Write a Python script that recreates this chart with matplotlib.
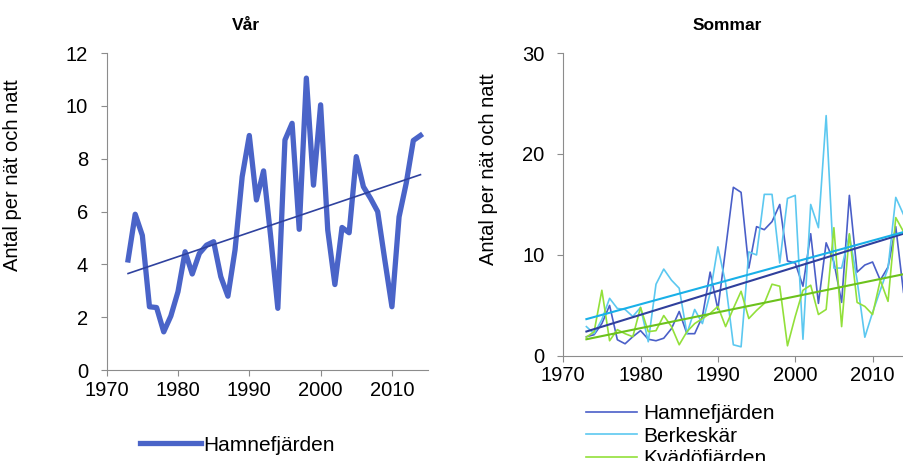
import numpy as np
import matplotlib.pyplot as plt

plt.rcParams['font.family'] = ['Liberation Sans', 'DejaVu Sans']

# Vår (spring), Hamnefjärden
var_years = list(range(1973, 2015))
var_hamne = [4.17, 5.9, 5.1, 2.4, 2.37, 1.45, 2.05, 2.97, 4.48, 3.64,
             4.42, 4.73, 4.86, 3.54, 2.8, 4.55, 7.32, 8.88, 6.44, 7.54,
             5.05, 2.34, 8.71, 9.34, 5.33, 11.05, 7.0, 10.04, 5.3, 3.24,
             5.4, 5.2, 8.08, 6.94, 6.5, 6.0, 4.17, 2.4, 5.8, 7.07,
             8.69, 8.88]

# Sommar (summer)
som_years = list(range(1973, 2015))
som_hamne = [1.9, 2.1, 3.2, 5.0, 1.6, 1.2, 1.9, 2.5, 1.65, 1.5,
             1.75, 2.7, 4.4, 2.2, 2.2, 3.9, 8.3, 4.6, 10.6, 16.7,
             16.2, 8.7, 12.8, 12.5, 13.3, 15.0, 9.4, 9.2, 6.9, 12.1,
             5.2, 11.2, 9.3, 5.3, 15.9, 8.3, 9.0, 9.3, 7.5, 8.8,
             12.8, 6.3]
som_berke = [2.9, 2.2, 3.6, 5.7, 4.7, 4.6, 3.9, 4.8, 1.4, 7.1,
             8.6, 7.5, 6.7, 2.2, 4.6, 3.2, 6.2, 10.8, 7.2, 1.1,
             0.9, 10.3, 10.0, 16.0, 16.0, 9.2, 15.6, 15.9, 1.65, 15.0,
             12.7, 23.8, 8.7, 8.7, 12.0, 7.5, 1.85, 4.3, 6.5, 8.7,
             15.7, 14.0]
som_kvado = [1.85, 2.4, 6.5, 1.5, 2.6, 2.2, 1.9, 4.8, 2.4, 2.5,
             4.0, 2.9, 1.1, 2.4, 3.2, 3.7, 4.2, 4.9, 2.9, 4.7,
             6.4, 3.7, 4.5, 5.2, 7.1, 6.9, 1.0, 3.9, 6.5, 7.0,
             4.1, 4.6, 12.7, 2.9, 12.1, 5.3, 4.9, 4.1, 7.5, 5.4,
             13.7, 12.3]

FS = 14.5


def trend(x, y):
    k, m = np.polyfit(x, y, 1)
    x = np.array(x)
    return x, k * x + m


def style_axes(ax):
    for s in ['top', 'right']:
        ax.spines[s].set_visible(False)
    for s in ['left', 'bottom']:
        ax.spines[s].set_color('#8c8c8c')
    ax.tick_params(direction='out', length=4.5, color='#8c8c8c', labelsize=FS)
    ax.tick_params(axis='y', pad=9)
    ax.tick_params(axis='x', pad=3)


fig = plt.figure(figsize=(9.04, 4.61), dpi=100)

# left: Vår
ax1 = fig.add_axes([0.118, 0.197, 0.355, 0.688])
l1, = ax1.plot(var_years, var_hamne, color='#4a64c8', lw=3.8,
               solid_joinstyle='round', label='Hamnefjärden')
tx, ty = trend(var_years, var_hamne)
ax1.plot(tx, ty, color='#2f429f', lw=1.2)
ax1.set_xlim(1970, 2015)
ax1.set_ylim(0, 12)
ax1.set_xticks([1970, 1980, 1990, 2000, 2010])
ax1.set_yticks(range(0, 13, 2))
ax1.set_ylabel('Antal per nät och natt', fontsize=FS)
ax1.yaxis.set_label_coords(-0.265, 0.614)
style_axes(ax1)
fig.legend(handles=[l1], loc='upper left', bbox_to_anchor=(0.155, 0.055),
           frameon=False, fontsize=15, handlelength=2.9, handletextpad=0.15,
           borderpad=0, borderaxespad=0)
fig.text(246 / 904, 1 - 25 / 461, 'Vår', ha='center', va='center',
         fontsize=12.5, fontweight='bold')

# right: Sommar
ax2 = fig.add_axes([0.623, 0.228, 0.385, 0.657])
h1, = ax2.plot(som_years, som_hamne, color='#4a5fc8', lw=1.2, label='Hamnefjärden')
h2, = ax2.plot(som_years, som_berke, color='#5cc8f0', lw=1.2, label='Berkeskär')
h3, = ax2.plot(som_years, som_kvado, color='#92e03a', lw=1.2, label='Kvädöfjärden')
for ys, c in [(som_hamne, '#2f3f9c'), (som_berke, '#19b0e8'), (som_kvado, '#6cc21c')]:
    tx, ty = trend(som_years, ys)
    ax2.plot(tx, ty, color=c, lw=1.5)
ax2.set_xlim(1970, 2015)
ax2.set_ylim(0, 30)
ax2.set_xticks([1970, 1980, 1990, 2000, 2010])
ax2.set_yticks([0, 10, 20, 30])
ax2.set_ylabel('Antal per nät och natt', fontsize=FS)
ax2.yaxis.set_label_coords(-0.187, 0.615)
style_axes(ax2)
fig.legend(handles=[h1, h2, h3], loc='upper left', bbox_to_anchor=(0.648, 0.1226),
           frameon=False, fontsize=15, handlelength=2.45, handletextpad=0.3,
           labelspacing=0.156, borderpad=0, borderaxespad=0)
fig.text(727 / 904, 1 - 25 / 461, 'Sommar', ha='center', va='center',
         fontsize=12.5, fontweight='bold')

fig.savefig('out.png', dpi=100)
